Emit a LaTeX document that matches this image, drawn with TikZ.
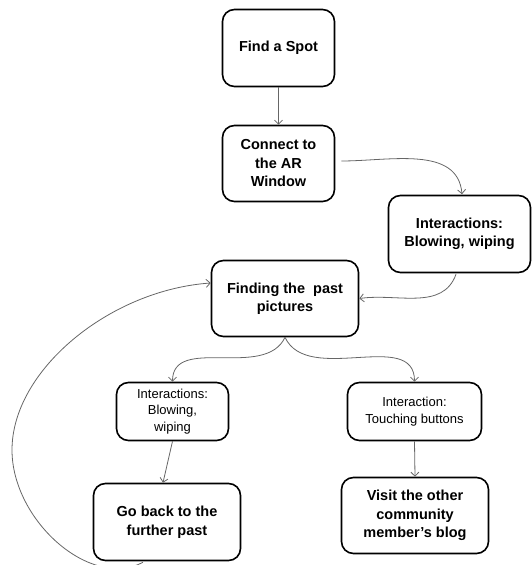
\documentclass[tikz,border=0pt]{standalone}
\usepackage{fontspec}
\setmainfont{Liberation Sans}
\usetikzlibrary{arrows.meta}
\begin{document}
\begin{tikzpicture}[x=1pt,y=1pt,
  box/.style={draw=black, line width=1.6pt, rounded corners=12pt, align=center, inner sep=2pt,
    font=\bfseries\fontsize{14.5}{18.5}\selectfont},
  smallbox/.style={box, font=\fontsize{13}{16.5}\selectfont},
  conn/.style={draw=black!60, line width=0.8pt, -{Straight Barb[length=4pt,width=8pt]}}]
\useasboundingbox (0,0) rectangle (532,-565);
\node[box, minimum width=112pt, minimum height=77pt] (find) at (278.5,-48) {Find a Spot};
\node[box, minimum width=112pt, minimum height=76pt] (connect) at (278.5,-163.5) {Connect to\\the AR\\Window};
\node[box, minimum width=142pt, minimum height=77pt] (inter1) at (459.5,-234) {Interactions:\\Blowing, wiping};
\node[box, minimum width=147pt, minimum height=76pt] (finding) at (285,-298.5) {Finding the\ \ past\\pictures};
\node[smallbox, minimum width=112pt, minimum height=58pt] (inter2) at (172.5,-411.5) {Interactions:\\Blowing,\\wiping};
\node[smallbox, minimum width=134pt, minimum height=58pt] (inter3) at (414.5,-411.5) {Interaction:\\Touching buttons};
\node[box, minimum width=147pt, minimum height=77pt] (goback) at (167,-522) {Go back to the\\further past};
\node[box, minimum width=147pt, minimum height=76pt] (visit) at (415,-515.5) {Visit the other\\community\\member’s blog};
\coordinate (loopend) at ([yshift=15.5pt]finding.west);
\coordinate (loopstart) at ([xshift=-24pt,yshift=-1pt]goback.south);
\coordinate (loopmid) at (12,-450);

\draw[conn] (find.south) -- (connect.north);
\draw[conn] ([xshift=6pt,yshift=2.5pt]connect.east) to[out=0,in=95] ([xshift=2.5pt,yshift=0.5pt]inter1.north);
\draw[conn] ([xshift=-3.5pt,yshift=-1pt]inter1.south) to[out=-110,in=8] (finding.east);
\draw[conn] (finding.south) to[out=-115,in=90] (inter2.north);
\draw[conn] (finding.south) to[out=-65,in=90] (inter3.north);
\draw[conn] (inter2.south) -- ([xshift=-4pt]goback.north);
\draw[conn] (inter3.south) -- (visit.north);
\draw[conn] (loopstart) .. controls (90,-590) and (12,-520) .. (loopmid)
  .. controls (12,-370) and (110,-290) .. (loopend);
\end{tikzpicture}
\end{document}
